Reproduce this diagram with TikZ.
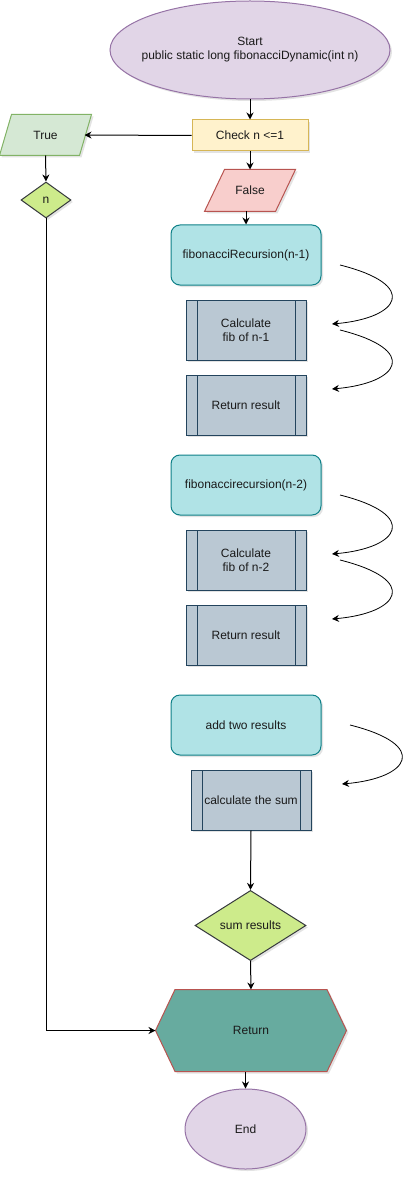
\documentclass[tikz,border=0pt]{standalone}
\usepackage{fontspec}
\setmainfont{Liberation Sans}
\usetikzlibrary{shapes.geometric,arrows.meta,shadows,backgrounds,calc}
\definecolor{purpF}{HTML}{E1D5E7}\definecolor{purpS}{HTML}{9673A6}
\definecolor{yelF}{HTML}{FFF2CC}\definecolor{yelS}{HTML}{D6B656}
\definecolor{redF}{HTML}{F8CECC}\definecolor{redS}{HTML}{B85450}
\definecolor{grnF}{HTML}{D5E8D4}\definecolor{grnS}{HTML}{82B366}
\definecolor{limeF}{HTML}{CDEB8B}\definecolor{limeS}{HTML}{36393D}
\definecolor{cyanF}{HTML}{B0E3E6}\definecolor{cyanS}{HTML}{0E8088}
\definecolor{slateF}{HTML}{BAC8D3}\definecolor{slateS}{HTML}{23445D}
\definecolor{tealF}{HTML}{67AB9F}
\definecolor{txt}{HTML}{1A1A1A}
\tikzset{
  shad/.style={drop shadow={shadow xshift=2pt, shadow yshift=-2pt, opacity=0.18, fill=black!60}},
  plain/.style={font=\fontsize{12}{14}\selectfont, text=txt, align=center, inner sep=0pt, line width=1pt},
  base/.style={plain, shad},
  oval/.style={base, ellipse, fill=purpF, draw=purpS},
  checkbox/.style={base, rectangle, fill=yelF, draw=yelS, minimum width=116pt, minimum height=31pt},
  dia/.style={base, diamond, fill=limeF, draw=limeS},
  callbox/.style={base, rectangle, rounded corners=9pt, fill=cyanF, draw=cyanS, minimum width=150pt, minimum height=60pt},
  procbox/.style={base, rectangle, fill=slateF, draw=slateS, minimum width=120pt, minimum height=60pt,
    path picture={\draw[slateS, line width=1pt]
      ([xshift=11pt]path picture bounding box.north west) -- ([xshift=11pt]path picture bounding box.south west)
      ([xshift=-11pt]path picture bounding box.north east) -- ([xshift=-11pt]path picture bounding box.south east);}},
  arr/.style={line width=1pt, -{Stealth[length=7pt,width=7pt]}},
  curv/.style={line width=0.8pt, -{Stealth[length=7pt,width=7pt]}},
}
\begin{document}
\begin{tikzpicture}[x=1pt,y=-1pt]
\useasboundingbox (0,0) rectangle (417,1182);
\node[oval, inner xsep=-30pt, inner ysep=-5pt, minimum width=280pt, minimum height=98pt] (start) at (250,50) {Start\\public static long fibonacciDynamic(int n)};
\node[checkbox] (check) at (250,135.5) {Check n <=1};
\node[plain, minimum width=90pt, minimum height=41pt] (false) at (250,190.5) {False};
\node[plain, minimum width=91pt, minimum height=40pt] (true) at (45.5,135) {True};
\begin{scope}[on background layer]
\path[fill=redF, draw=redS, line width=1pt, shad]
  ([xshift=20pt]false.north west) -- (false.north east) -- ([xshift=-20pt]false.south east) -- (false.south west) -- cycle;
\path[fill=grnF, draw=grnS, line width=1pt, shad]
  ([xshift=12pt]true.north west) -- (true.north east) -- ([xshift=-12pt]true.south east) -- (true.south west) -- cycle;
\end{scope}
\node[dia, minimum width=50pt, minimum height=36pt] (n) at (46,200) {n};

\node[callbox] (fib1) at (246,255) {fibonacciRecursion(n-1)};
\node[procbox] (calc1) at (246,330) {Calculate\\fib of n-1};
\node[procbox] (ret1) at (246,405) {Return result};

\node[callbox] (fib2) at (246,485) {fibonaccirecursion(n-2)};
\node[procbox] (calc2) at (246,560) {Calculate\\fib of n-2};
\node[procbox] (ret2) at (246,635) {Return result};

\node[callbox] (add) at (246,725) {add two results};
\node[procbox] (sum) at (251,800) {calculate the sum};

\node[dia, minimum width=111pt, minimum height=49pt] (sumr) at (250.5,925.5) {sum results};

\node[plain, minimum width=190pt, minimum height=81pt] (ret) at (251,1030.5) {Return};
\begin{scope}[on background layer]
\path[fill=tealF, draw=redS, line width=1pt, shad]
  ([xshift=19.5pt]ret.north west) -- ([xshift=-19.5pt]ret.north east) -- (ret.east)
  -- ([xshift=-19.5pt]ret.south east) -- ([xshift=19.5pt]ret.south west) -- (ret.west) -- cycle;
\end{scope}

\node[oval, minimum width=121pt, minimum height=80pt] (endn) at (245.5,1129) {End};

% connectors
\draw[arr] (start.south) -- (check.north);
\draw[arr] (check.west) -- ([xshift=-7pt]true.east);
\draw[arr] (check.south) -- (false.north);
\draw[arr] (false.south -| fib1.north) -- (fib1.north);
\draw[arr] (true.south) -- (n.north);
\draw[arr] (n.south) -- (n.south |- ret.west) -- (ret.west);
\draw[arr] (sum.south) -- (sumr.north);
\draw[arr] (sumr.south) -- (ret.north);
\draw[arr] (ret.south -| endn.north) -- (endn.north);

% curved arrows
\coordinate (a1) at (340,265); \coordinate (b1) at (332,324);
\coordinate (a2) at (340,330); \coordinate (b2) at (332,389);
\coordinate (a3) at (340,495); \coordinate (b3) at (332,554);
\coordinate (a4) at (340,560); \coordinate (b4) at (332,619);
\coordinate (a5) at (350,725); \coordinate (b5) at (342,784);
\draw[curv] (a1) .. controls ($(a1)+(80,20)$) and ($(b1)+(68,-6)$) .. (b1);
\draw[curv] (a2) .. controls ($(a2)+(80,20)$) and ($(b2)+(68,-6)$) .. (b2);
\draw[curv] (a3) .. controls ($(a3)+(80,20)$) and ($(b3)+(68,-6)$) .. (b3);
\draw[curv] (a4) .. controls ($(a4)+(80,20)$) and ($(b4)+(68,-6)$) .. (b4);
\draw[curv] (a5) .. controls ($(a5)+(80,20)$) and ($(b5)+(68,-6)$) .. (b5);
\end{tikzpicture}
\end{document}
